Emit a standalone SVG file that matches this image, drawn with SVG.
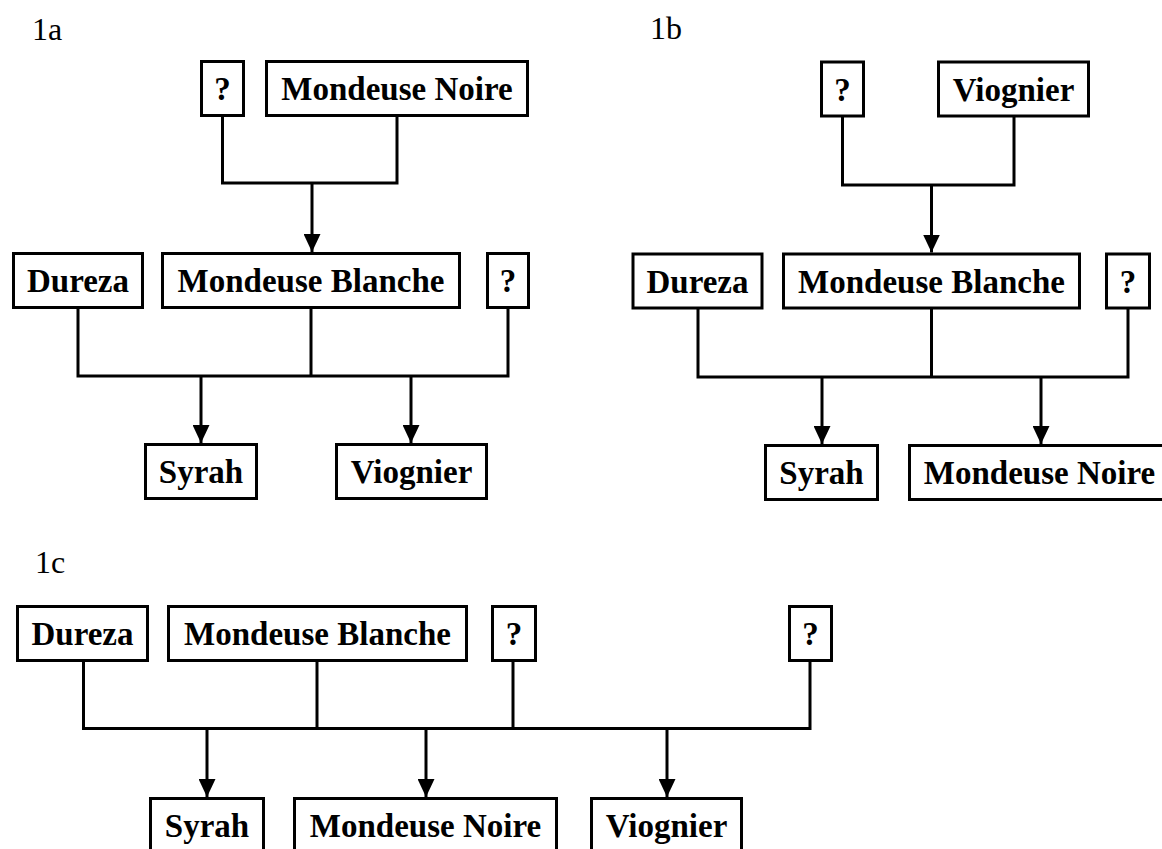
<svg xmlns="http://www.w3.org/2000/svg" width="1162" height="849" viewBox="0 0 1162 849">
<style>
  .box { fill: #fff; stroke: #000; stroke-width: 3; }
  .t { font-family: "Liberation Serif", "Times New Roman", serif; font-weight: bold; font-size: 33px; text-anchor: middle; fill: #000; }
  .lbl { font-family: "Liberation Serif", "Times New Roman", serif; font-size: 32px; fill: #000; }
  .c { fill: none; stroke: #000; stroke-width: 3; }
</style>
<defs>
  <marker id="arr" viewBox="0 0 18 17" refX="18" refY="8.5" markerWidth="18" markerHeight="17" markerUnits="userSpaceOnUse" orient="auto">
    <path d="M0,0 L18,8.5 L0,17 z" fill="#000"/>
  </marker>
</defs>
<rect width="1162" height="849" fill="#fff"/>
<text class="lbl" x="32" y="40">1a</text>
<text class="lbl" x="650" y="39">1b</text>
<text class="lbl" x="35" y="573">1c</text>

<g id="connectors">
  <path class="c" d="M222.5,117 V183 H397 V117"/>
  <path class="c" d="M312,183 V252" marker-end="url(#arr)"/>
  <path class="c" d="M78,309 V376 H508 V309"/>
  <path class="c" d="M311,309 V376"/>
  <path class="c" d="M201,376 V443" marker-end="url(#arr)"/>
  <path class="c" d="M411,376 V443" marker-end="url(#arr)"/>

  <path class="c" d="M842.5,117 V185 H1014 V117"/>
  <path class="c" d="M931.5,185 V252.5" marker-end="url(#arr)"/>
  <path class="c" d="M698,308 V377 H1128 V308"/>
  <path class="c" d="M931.5,308 V377"/>
  <path class="c" d="M822,377 V444" marker-end="url(#arr)"/>
  <path class="c" d="M1041,377 V444" marker-end="url(#arr)"/>

  <path class="c" d="M83.5,662 V728.5 H810 V662"/>
  <path class="c" d="M317,662 V728.5"/>
  <path class="c" d="M513,662 V728.5"/>
  <path class="c" d="M207,728.5 V797" marker-end="url(#arr)"/>
  <path class="c" d="M426,728.5 V797" marker-end="url(#arr)"/>
  <path class="c" d="M667,728.5 V797" marker-end="url(#arr)"/>
</g>

<g id="a_q1"><rect class="box" x="201.5" y="61.5" width="42" height="54"/><text class="t" x="222.5" y="100">?</text></g>
<g id="a_mn"><rect class="box" x="266.5" y="61.5" width="261" height="54"/><text class="t" x="397" y="100">Mondeuse Noire</text></g>
<g id="a_dur"><rect class="box" x="13.5" y="253.5" width="129" height="54"/><text class="t" x="78" y="292">Dureza</text></g>
<g id="a_mb"><rect class="box" x="162.5" y="253.5" width="297" height="54"/><text class="t" x="311" y="292">Mondeuse Blanche</text></g>
<g id="a_q2"><rect class="box" x="487.5" y="253.5" width="41" height="54"/><text class="t" x="508" y="292">?</text></g>
<g id="a_syr"><rect class="box" x="145.5" y="444.5" width="111" height="54"/><text class="t" x="201" y="483">Syrah</text></g>
<g id="a_vio"><rect class="box" x="336.5" y="444.5" width="150" height="54"/><text class="t" x="411.5" y="483">Viognier</text></g>

<g id="b_q1"><rect class="box" x="821.5" y="62" width="42" height="54"/><text class="t" x="842.5" y="101">?</text></g>
<g id="b_vio"><rect class="box" x="938.5" y="62" width="150" height="54"/><text class="t" x="1013.5" y="101">Viognier</text></g>
<g id="b_dur"><rect class="box" x="633" y="254" width="129" height="54"/><text class="t" x="697.5" y="293">Dureza</text></g>
<g id="b_mb"><rect class="box" x="783.5" y="254" width="296" height="54"/><text class="t" x="931.5" y="293">Mondeuse Blanche</text></g>
<g id="b_q2"><rect class="box" x="1106.5" y="254" width="43" height="54"/><text class="t" x="1128" y="293">?</text></g>
<g id="b_syr"><rect class="box" x="765.5" y="445.5" width="112" height="54"/><text class="t" x="821.5" y="484">Syrah</text></g>
<g id="b_mn"><rect class="box" x="909.5" y="445.5" width="262" height="54"/><text class="t" x="1039.5" y="484">Mondeuse Noire</text></g>

<g id="c_dur"><rect class="box" x="17.5" y="606.5" width="130" height="54"/><text class="t" x="82.5" y="645">Dureza</text></g>
<g id="c_mb"><rect class="box" x="168.5" y="606.5" width="298" height="54"/><text class="t" x="317.5" y="645">Mondeuse Blanche</text></g>
<g id="c_q1"><rect class="box" x="492.5" y="606.5" width="43" height="54"/><text class="t" x="514" y="645">?</text></g>
<g id="c_q2"><rect class="box" x="789.5" y="606.5" width="42" height="54"/><text class="t" x="810.5" y="645">?</text></g>
<g id="c_syr"><rect class="box" x="150.5" y="798.5" width="113" height="60"/><text class="t" x="207" y="837">Syrah</text></g>
<g id="c_mn"><rect class="box" x="294.5" y="798.5" width="262" height="60"/><text class="t" x="425.5" y="837">Mondeuse Noire</text></g>
<g id="c_vio"><rect class="box" x="591.5" y="798.5" width="150" height="60"/><text class="t" x="666.5" y="837">Viognier</text></g>
</svg>
